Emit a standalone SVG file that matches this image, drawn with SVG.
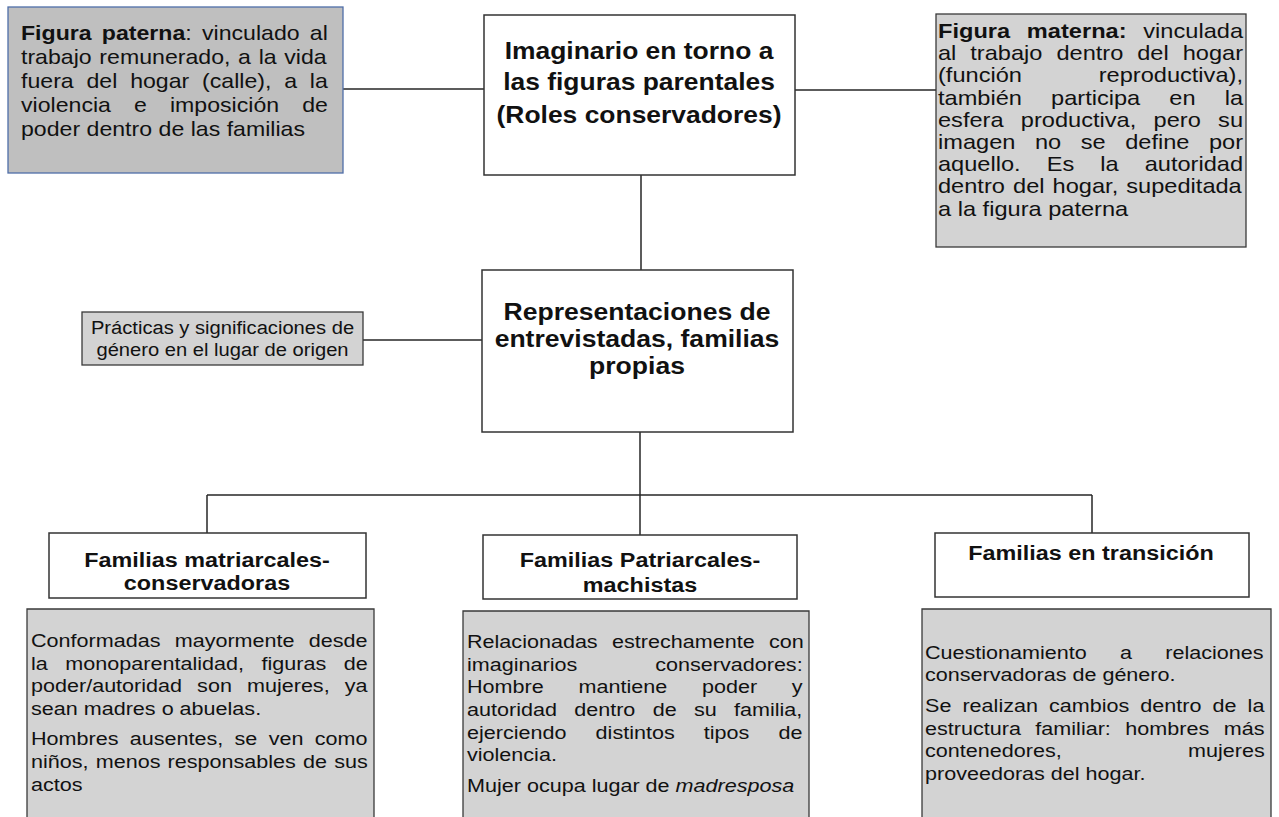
<svg xmlns="http://www.w3.org/2000/svg" width="1279" height="817" viewBox="0 0 1279 817">
<style>
text{font-family:"Liberation Sans",Arial,Helvetica,sans-serif;fill:#111}
.b{font-weight:bold}
.c{text-anchor:middle}
.box{fill:#ffffff;stroke:#333;stroke-width:1.5}
.gray{fill:#d3d3d3;stroke:#3a3a3a;stroke-width:1.3}
.con{stroke:#262626;stroke-width:1.5;fill:none}
</style>
<rect width="1279" height="817" fill="#ffffff"/>
<g id="connectors">
<line class="con" x1="343" y1="89" x2="484" y2="89"/>
<line class="con" x1="795" y1="90" x2="936" y2="90"/>
<line class="con" x1="641" y1="175" x2="641" y2="270" stroke-width="2"/>
<line class="con" x1="363" y1="340" x2="482" y2="340" stroke="#444"/>
<line class="con" x1="640" y1="432" x2="640" y2="495" stroke-width="2"/>
<line class="con" x1="207" y1="495" x2="1092" y2="495" stroke="#3a3a3a"/>
<line class="con" x1="207" y1="495" x2="207" y2="533"/>
<line class="con" x1="640" y1="495" x2="640" y2="535" stroke="#666"/>
<line class="con" x1="1092" y1="495" x2="1092" y2="533" stroke="#555"/>
</g>
<g id="figura-paterna">
<rect x="8" y="7" width="335" height="166" fill="#bfbfbf" stroke="#4f6ea8" stroke-width="1.3"/>
<g transform="translate(21 0) scale(1.13 1)" font-size="20.46">
<text y="40" word-spacing="3.34"><tspan class="b">Figura paterna</tspan>: vinculado al</text>
<text y="64" word-spacing="1.11">trabajo remunerado, a la vida</text>
<text y="88" word-spacing="5.64">fuera del hogar (calle), a la</text>
<text y="112" word-spacing="14.72">violencia e imposición de</text>
<text y="136">poder dentro de las familias</text>
</g>
</g>
<g id="imaginario">
<rect class="box" x="484" y="15" width="311" height="160"/>
<g transform="translate(639 0) scale(1.13 1)" font-size="23.4">
<text class="b c" y="59">Imaginario en torno a</text>
<text class="b c" y="90">las figuras parentales</text>
<text class="b c" y="123">(Roles conservadores)</text>
</g>
</g>
<g id="figura-materna">
<rect class="gray" x="936" y="14" width="310" height="233"/>
<g transform="translate(938 0) scale(1.13 1)" font-size="20.9">
<text y="38" word-spacing="9.03"><tspan class="b">Figura materna:</tspan> vinculada</text>
<text y="60.2" word-spacing="6.53">al trabajo dentro del hogar</text>
<text y="82.4" word-spacing="62.1">(función reproductiva),</text>
<text y="104.6" word-spacing="19.94">también participa en la</text>
<text y="126.8" word-spacing="9.5">esfera productiva, pero su</text>
<text y="149" word-spacing="11.48">imagen no se define por</text>
<text y="171.2" word-spacing="17.23">aquello. Es la autoridad</text>
<text y="193.4" word-spacing="1.36">dentro del hogar, supeditada</text>
<text y="215.6">a la figura paterna</text>
</g>
</g>
<g id="practicas">
<rect class="gray" x="82" y="312" width="281" height="53"/>
<g transform="translate(222.5 0) scale(1.13 1)" font-size="17.85">
<text class="c" y="334">Prácticas y significaciones de</text>
<text class="c" y="356">género en el lugar de origen</text>
</g>
</g>
<g id="representaciones">
<rect class="box" x="482" y="270" width="311" height="162"/>
<g transform="translate(637 0) scale(1.13 1)" font-size="23.5">
<text class="b c" y="320">Representaciones de</text>
<text class="b c" y="347">entrevistadas, familias</text>
<text class="b c" y="374">propias</text>
</g>
</g>
<g id="matriarcales">
<rect class="box" x="49" y="533" width="317" height="65"/>
<g transform="translate(207 0) scale(1.13 1)" font-size="20.7">
<text class="b c" y="567">Familias matriarcales-</text>
<text class="b c" y="590">conservadoras</text>
</g>
</g>
<g id="patriarcales">
<rect class="box" x="483" y="535" width="314" height="64"/>
<g transform="translate(640 0) scale(1.13 1)" font-size="20.7">
<text class="b c" y="567.3">Familias Patriarcales-</text>
<text class="b c" y="591.7">machistas</text>
</g>
</g>
<g id="transicion">
<rect class="box" x="935" y="533" width="314" height="64"/>
<g transform="translate(1091 0) scale(1.13 1)" font-size="20.7">
<text class="b c" y="560">Familias en transición</text>
</g>
</g>
<g id="matriarcales-desc">
<path class="gray" d="M27 818 V609 H374 V818"/>
<g transform="translate(31 0) scale(1.13 1)" font-size="19.1">
<text y="647" word-spacing="7.31">Conformadas mayormente desde</text>
<text y="669.7" word-spacing="10.23">la monoparentalidad, figuras de</text>
<text y="692.4" word-spacing="8.04">poder/autoridad son mujeres, ya</text>
<text y="715">sean madres o abuelas.</text>
<text y="745.5" word-spacing="4.7">Hombres ausentes, se ven como</text>
<text y="768.2" word-spacing="1.04">niños, menos responsables de sus</text>
<text y="791">actos</text>
</g>
</g>
<g id="patriarcales-desc">
<path class="gray" d="M463 818 V611 H809 V818"/>
<g transform="translate(467 0) scale(1.13 1)" font-size="19.1">
<text y="648" word-spacing="7.41">Relacionadas estrechamente con</text>
<text y="670.7" word-spacing="63.7">imaginarios conservadores:</text>
<text y="693.4" word-spacing="25.47">Hombre mantiene poder y</text>
<text y="716" word-spacing="10.02">autoridad dentro de su familia,</text>
<text y="738.7" word-spacing="20.46">ejerciendo distintos tipos de</text>
<text y="761.4">violencia.</text>
<text y="792">Mujer ocupa lugar de <tspan font-style="italic">madresposa</tspan></text>
</g>
</g>
<g id="transicion-desc">
<path class="gray" d="M922 818 V609 H1271 V818"/>
<g transform="translate(925 0) scale(1.13 1)" font-size="19.1">
<text y="659" word-spacing="24.1">Cuestionamiento a relaciones</text>
<text y="681.5">conservadoras de género.</text>
<text y="712.5" word-spacing="4.49">Se realizan cambios dentro de la</text>
<text y="735" word-spacing="7.52">estructura familiar: hombres más</text>
<text y="757.5" word-spacing="106.5">contenedores, mujeres</text>
<text y="780">proveedoras del hogar.</text>
</g>
</g>
</svg>
